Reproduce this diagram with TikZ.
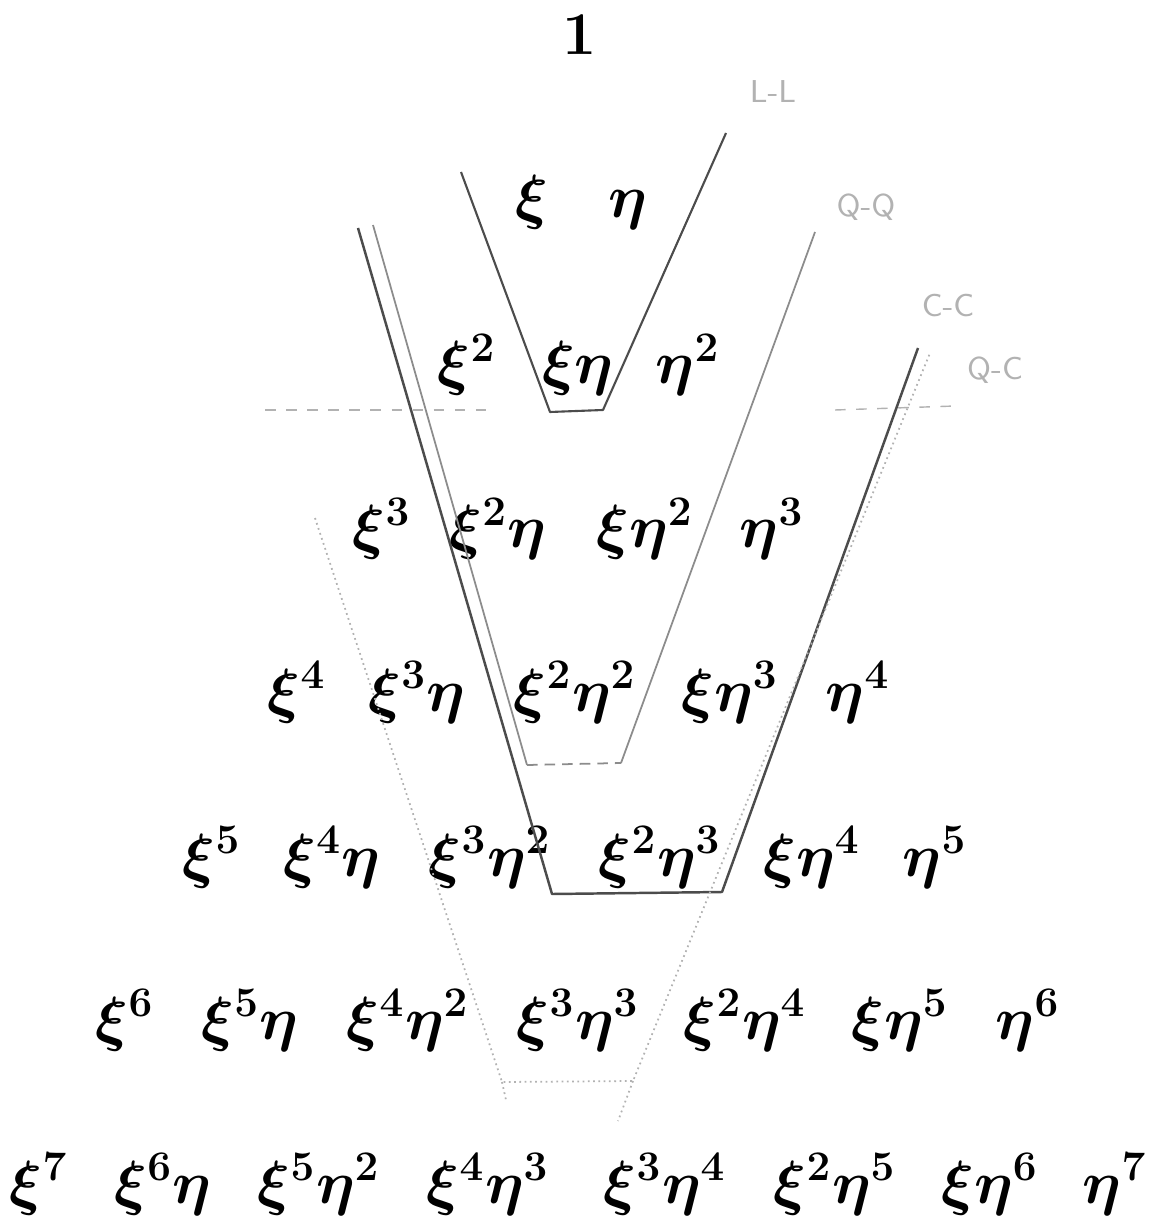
\documentclass[tikz,border=0pt]{standalone}
\usepackage{tikz}
\usetikzlibrary{positioning}
\colorlet{colTinta}{black}
\colorlet{colLapiz}{black!70}
\colorlet{colLapizMedio}{black!45}
\colorlet{colLapizClaro}{black!30}
\tikzset{
  monomio/.style={anchor=base, inner sep=0pt, text=colTinta,
    font=\fontsize{18.5}{22}\selectfont\boldmath},
  trazoLL/.style={draw=colLapiz, line width=0.6pt, line join=round},
  trazoQQ/.style={draw=colLapizMedio, line width=0.5pt, line join=round},
  trazoCC/.style={draw=colLapiz, line width=0.7pt, line join=round},
  trazoQC/.style={draw=colLapizClaro, line width=0.5pt, densely dotted, line join=round},
  trazoGuia/.style={draw=colLapizClaro, line width=0.4pt, dashed},
  notaLapiz/.style={font=\sffamily\small, text=colLapizClaro, inner sep=1pt},
}
\begin{document}
\begin{tikzpicture}[x=0.1mm, y=-0.1mm]
  \useasboundingbox (0,0) rectangle (1151,1224);

  % triangulo de monomios
  \node[monomio] (uno) at (580,55) {$1$};
  \foreach \nombre/\x/\t in {a1/532/\xi, b1/628/\eta}
    \node[monomio] (\nombre) at (\x,218) {$\t$};
  \foreach \nombre/\x/\t in {a2/467/\xi^2, b2/578/\xi\eta, c2/688/\eta^2}
    \node[monomio] (\nombre) at (\x,384) {$\t$};
  \foreach \nombre/\x/\t in {a3/382/\xi^3, b3/498/\xi^2\eta, c3/645/\xi\eta^2, d3/772/\eta^3}
    \node[monomio] (\nombre) at (\x,548) {$\t$};
  \foreach \nombre/\x/\t in {a4/297/\xi^4, b4/417/\xi^3\eta, c4/575/\xi^2\eta^2,
                             d4/730/\xi\eta^3, e4/858/\eta^4}
    \node[monomio] (\nombre) at (\x,711) {$\t$};
  \foreach \nombre/\x/\t in {a5/212/\xi^5, b5/332/\xi^4\eta, c5/490/\xi^3\eta^2,
                             d5/660/\xi^2\eta^3, e5/812/\xi\eta^4, f5/935/\eta^5}
    \node[monomio] (\nombre) at (\x,876) {$\t$};
  \foreach \nombre/\x/\t in {a6/125/\xi^6, b6/250/\xi^5\eta, c6/408/\xi^4\eta^2,
                             d6/578/\xi^3\eta^3, e6/745/\xi^2\eta^4, f6/900/\xi\eta^5,
                             g6/1028/\eta^6}
    \node[monomio] (\nombre) at (\x,1039) {$\t$};
  \foreach \nombre/\x/\t in {a7/39/\xi^7, b7/163/\xi^6\eta, c7/319/\xi^5\eta^2,
                             d7/488/\xi^4\eta^3, e7/665/\xi^3\eta^4, f7/835/\xi^2\eta^5,
                             g7/990/\xi\eta^6, h7/1115/\eta^7}
    \node[monomio] (\nombre) at (\x,1203) {$\t$};

  % esquinas de las V a lapiz
  \coordinate (llA) at (461,172);  \coordinate (llB) at (550,412);
  \coordinate (llC) at (603,410);  \coordinate (llD) at (726,133);
  \coordinate (qqA) at (373,225);  \coordinate (qqB) at (527,765);
  \coordinate (qqC) at (621,763);  \coordinate (qqD) at (815,232);
  \coordinate (ccA) at (358,228);  \coordinate (ccB) at (552,894);
  \coordinate (ccC) at (722,892);  \coordinate (ccD) at (918,348);
  \coordinate (qcA) at (315,518);  \coordinate (qcB) at (502,1082);
  \coordinate (qcC) at (633,1081); \coordinate (qcD) at (930,353);

  \draw[trazoLL] (llA) -- (llB) -- (llC) -- (llD);
  \draw[trazoQQ] (qqA) -- (qqB);
  \draw[trazoQQ, densely dashed] (qqB) -- (qqC);
  \draw[trazoQQ] (qqC) -- (qqD);
  \draw[trazoCC] (ccA) -- (ccB) -- (ccC) -- (ccD);
  \draw[trazoQC] (qcA) -- (qcB) -- (qcC) -- (qcD);
  \draw[trazoQC] (qcB) -- ++(4,18);
  \draw[trazoQC] (qcC) -- ++(-15,40);

  % guia horizontal
  \draw[trazoGuia] (265,410) -- (490,410);
  \draw[trazoGuia] (835,410) -- (955,406);

  % notas a lapiz
  \node[notaLapiz] (etLL) at (773,92) {L-L};
  \node[notaLapiz] (etQQ) at (866,207) {Q-Q};
  \node[notaLapiz] (etCC) at (948,306) {C-C};
  \node[notaLapiz] (etQC) at (995,370) {Q-C};
\end{tikzpicture}
\end{document}
